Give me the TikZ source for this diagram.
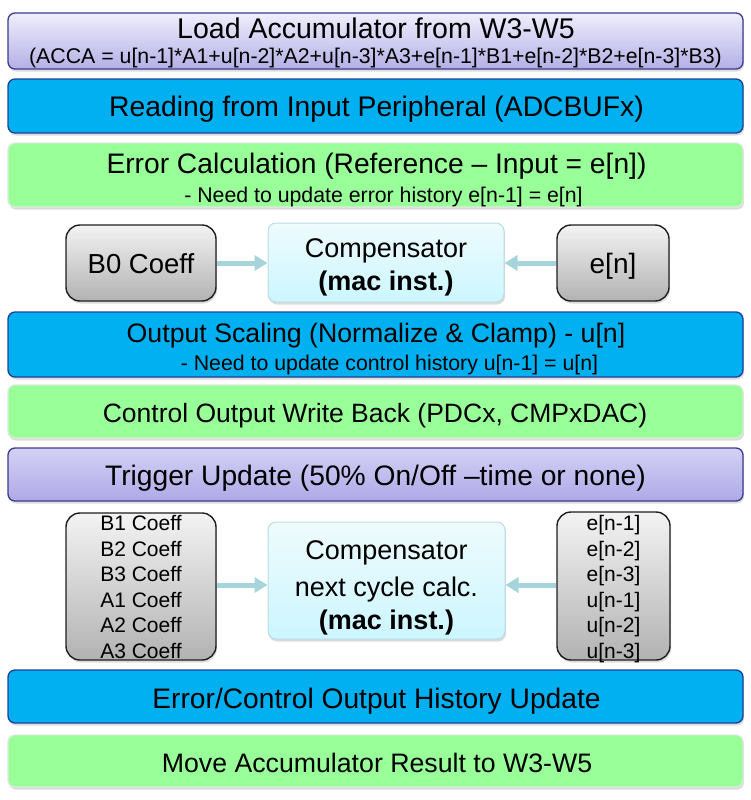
\documentclass[tikz,border=0pt]{standalone}
\usepackage{fontspec}
\setmainfont{Liberation Sans}
\usetikzlibrary{shadows,arrows.meta}
\definecolor{lavtopA}{HTML}{EFEEFC}
\definecolor{lavbotA}{HTML}{B4B0E6}
\definecolor{lavtopB}{HTML}{D4D1F6}
\definecolor{lavbotB}{HTML}{AEA9E6}
\definecolor{lavdraw}{HTML}{3C3C8E}
\definecolor{bluefill}{HTML}{00B0F0}
\definecolor{bluedraw}{HTML}{22409A}
\definecolor{greenfill}{HTML}{99FF99}
\definecolor{greendraw}{HTML}{DCEADC}
\definecolor{graytop}{HTML}{F3F3F3}
\definecolor{graybot}{HTML}{B2B2B2}
\definecolor{graydraw}{HTML}{1E1E1E}
\definecolor{comptop}{HTML}{EEFBFD}
\definecolor{compbot}{HTML}{CCF6FF}
\definecolor{compdraw}{HTML}{BADCE2}
\definecolor{arrowc}{HTML}{A6D4DB}
\tikzset{
  shad/.style={drop shadow={opacity=0.28, shadow xshift=1pt, shadow yshift=-2.5pt}},
  wide/.style={rounded corners=7pt, minimum width=735pt, inner sep=0pt, line width=1.3pt, shad},
  lavA/.style={wide, draw=lavdraw, top color=lavtopA, bottom color=lavbotA},
  lavB/.style={wide, draw=lavdraw, top color=lavtopB, bottom color=lavbotB},
  bluebox/.style={wide, draw=bluedraw, fill=bluefill},
  greenbox/.style={wide, draw=greendraw, fill=greenfill},
  graybox/.style={rounded corners=14pt, inner sep=0pt, line width=1.4pt, draw=graydraw, top color=graytop, bottom color=graybot, shad},
  compbox/.style={rounded corners=8pt, inner sep=0pt, line width=1pt, draw=compdraw, top color=comptop, bottom color=compbot, shad},
  txt/.style={anchor=base, inner sep=0pt, font=\fontsize{#1}{#1}\selectfont},
  flow/.style={draw=arrowc, line width=5pt, -{Triangle[length=13pt,width=15pt]}, shorten >=0pt},
}
\begin{document}
\begin{tikzpicture}[x=1pt,y=-1pt]
\useasboundingbox (0,0) rectangle (751,800);
% wide boxes
\node[lavA, minimum height=56pt] (acc) at (375.5,41) {};
\node[txt=28.5] (accT) at (376,39) {Load Accumulator from W3-W5};
\node[txt=21.3] (accF) at (375.5,63.5) {(ACCA = u[n-1]*A1+u[n-2]*A2+u[n-3]*A3+e[n-1]*B1+e[n-2]*B2+e[n-3]*B3)};

\node[bluebox, minimum height=54pt] (read) at (375.5,106) {};
\node[txt=28.3] (readT) at (376.5,116) {Reading from Input Peripheral (ADCBUFx)};

\node[greenbox, minimum height=64pt] (err) at (375.5,175) {};
\node[txt=28.2] (errT) at (376.5,173) {Error Calculation (Reference – Input = e[n])};
\node[txt=21.3] (errS) at (383.5,202) {- Need to update error history e[n-1] = e[n]};

% first compensator row
\node[graybox, minimum width=150pt, minimum height=76pt] (bzero) at (141,263) {};
\node[txt=27.5] (bzeroT) at (141,273) {B0 Coeff};
\node[compbox, minimum width=236pt, minimum height=79pt] (compA) at (386,262.5) {};
\node[txt=27] (compAT) at (386,257) {Compensator};
\node[txt=27] (compAB) at (386,290) {\bfseries (mac inst.)};
\node[graybox, minimum width=112pt, minimum height=76pt] (en) at (613,263) {};
\node[txt=28] (enT) at (613,273) {e[n]};
\draw[flow] (bzero.east) -- (compA.west |- bzero.east);
\draw[flow] (en.west) -- (compA.east |- en.west);

\node[bluebox, minimum height=65pt] (outs) at (375.5,344.5) {};
\node[txt=26.7] (outsT) at (376,342) {Output Scaling (Normalize \& Clamp) - u[n]};
\node[txt=21.3] (outsS) at (389.5,370) {- Need to update control history u[n-1] = u[n]};

\node[greenbox, minimum height=53pt] (wb) at (375.5,411.5) {};
\node[txt=26.5] (wbT) at (375,422) {Control Output Write Back (PDCx, CMPxDAC)};

\node[lavB, minimum height=53pt] (trig) at (375.5,474.5) {};
\node[txt=28.2] (trigT) at (375.5,485) {Trigger Update (50\% On/Off –time or none)};

% second compensator row
\node[graybox, minimum width=150pt, minimum height=147pt] (coef) at (141,586.5) {};
\foreach \t [count=\i from 0] in {B1 Coeff,B2 Coeff,B3 Coeff,A1 Coeff,A2 Coeff,A3 Coeff}
  \node[txt=21] (coef\i) at (141,530.5+25.6*\i) {\t};
\node[compbox, minimum width=237pt, minimum height=117pt] (compB) at (386.5,580.5) {};
\node[txt=27] (compB1) at (386.5,559) {Compensator};
\node[txt=27] (compB2) at (386.5,596) {next cycle calc.};
\node[txt=27] (compB3) at (386.5,629) {\bfseries (mac inst.)};
\node[graybox, minimum width=113pt, minimum height=148pt] (hist) at (613.5,586) {};
\foreach \t [count=\i from 0] in {e[n-1],e[n-2],e[n-3],u[n-1],u[n-2],u[n-3]}
  \node[txt=21] (hist\i) at (613.5,530.5+25.6*\i) {\t};
\coordinate (la) at (coef.east |- 0,585);
\coordinate (ra) at (hist.west |- 0,585);
\draw[flow] (la) -- (compB.west |- la);
\draw[flow] (ra) -- (compB.east |- ra);

\node[bluebox, minimum height=53pt] (hup) at (375.5,696.5) {};
\node[txt=28.2] (hupT) at (376.5,708) {Error/Control Output History Update};

\node[greenbox, minimum height=52pt] (mv) at (375.5,761) {};
\node[txt=26.7] (mvT) at (377,772) {Move Accumulator Result to W3-W5};
\end{tikzpicture}
\end{document}
